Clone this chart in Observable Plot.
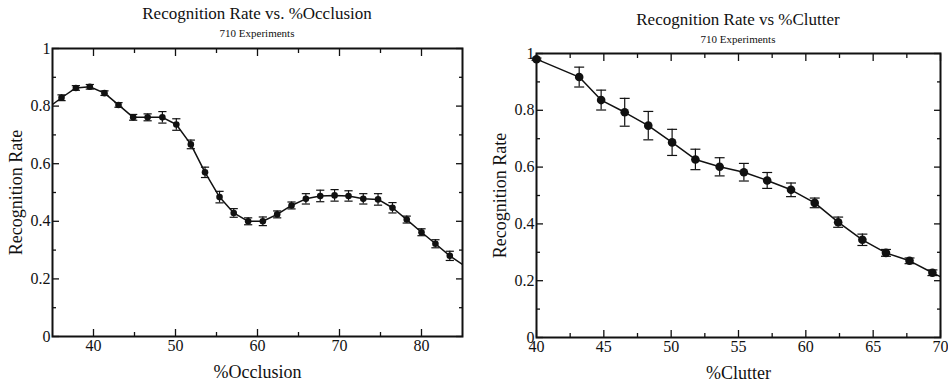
<!DOCTYPE html>
<html><head><meta charset="utf-8">
<script src="https://cdn.jsdelivr.net/npm/d3@7"></script>
<script src="https://cdn.jsdelivr.net/npm/@observablehq/plot@0.6"></script>
<style>
body{margin:0;background:#fff;font-family:"Liberation Serif",serif;color:#111;}
#wrap{position:relative;width:948px;height:381px;overflow:hidden;}
.panel{position:absolute;top:0;width:474px;height:381px;}
.panel svg{position:absolute;left:0;top:0;}
.title{position:absolute;text-align:center;font-size:17px;line-height:18px;white-space:nowrap;}
.sub{position:absolute;text-align:center;font-size:11px;line-height:12px;white-space:nowrap;}
</style></head><body>
<div id="wrap">
  <div class="panel" id="p1">
    <div class="title" style="left:52px;width:410px;top:5px">Recognition Rate vs. %Occlusion</div>
    <div class="sub" style="left:52px;width:410px;top:27px">710 Experiments</div>
  </div>
  <div class="panel" id="p2" style="left:474px">
    <div class="title" style="left:62px;width:404px;top:11px">Recognition Rate vs %Clutter</div>
    <div class="sub" style="left:62px;width:404px;top:33px">710 Experiments</div>
  </div>
</div>
<script>
// Left chart: recognition rate vs % occlusion
const occlusionX = [34.35, 36.1, 37.85, 39.55, 41.34, 43.05, 44.84, 46.6, 48.4, 50.1, 51.87, 53.6, 55.37, 57.1, 58.86, 60.65, 62.4, 64.15, 65.9, 67.65, 69.4, 71.1, 72.9, 74.7, 76.46, 78.2, 80.0, 81.7, 83.45, 85.2];
const occlusionRate = [0.792, 0.829, 0.863, 0.867, 0.845, 0.804, 0.761, 0.761, 0.761, 0.736, 0.667, 0.570, 0.484, 0.429, 0.400, 0.400, 0.424, 0.455, 0.478, 0.488, 0.490, 0.488, 0.478, 0.476, 0.447, 0.406, 0.362, 0.322, 0.280, 0.246];
const occlusionErr = [0.01, 0.01, 0.008, 0.008, 0.008, 0.008, 0.01, 0.012, 0.02, 0.02, 0.015, 0.018, 0.02, 0.015, 0.012, 0.015, 0.012, 0.012, 0.018, 0.02, 0.02, 0.018, 0.018, 0.02, 0.018, 0.012, 0.012, 0.014, 0.016, 0.015];

// Right chart: recognition rate vs % clutter
const clutterX = [40.0, 43.17, 44.8, 46.55, 48.3, 50.07, 51.8, 53.6, 55.4, 57.13, 58.9, 60.66, 62.4, 64.2, 65.95, 67.7, 69.4, 71.15];
const clutterRate = [0.980, 0.917, 0.836, 0.793, 0.746, 0.687, 0.627, 0.601, 0.582, 0.553, 0.520, 0.474, 0.406, 0.344, 0.298, 0.270, 0.228, 0.187];
const clutterErr = [0.004, 0.035, 0.035, 0.049, 0.05, 0.046, 0.036, 0.032, 0.031, 0.028, 0.024, 0.017, 0.018, 0.02, 0.012, 0.01, 0.01, 0.01];

const occXMajor = [40, 50, 60, 70, 80];
const occXMinor = [45, 55, 65, 75];
const clutXMajor = [40, 45, 50, 55, 60, 65, 70];
const clutXMinor = [42.5, 47.5, 52.5, 57.5, 62.5, 67.5];
const rateMajor = [0, 0.2, 0.4, 0.6, 0.8, 1];
const rateMinor = [0.1, 0.3, 0.5, 0.7, 0.9];

const ink = "#111";

function chart({xs, ys, es, xDomain, xMajor, xMinor, xLabel, margins, r, capHalf}) {
  const data = xs.map((x, i) => ({x, y: ys[i], e: es[i]}));
  const inside = data.filter(d => d.x >= xDomain[0] && d.x <= xDomain[1]);
  const tickOpts = {stroke: ink, strokeWidth: 1.3, text: null, label: null};
  return Plot.plot({
    width: 474,
    height: 381,
    ...margins,
    style: {fontFamily: "Liberation Serif, serif", color: ink, background: "transparent"},
    x: {domain: xDomain},
    y: {domain: [0, 1]},
    marks: [
      // tick labels and axis titles
      Plot.axisX({ticks: xMajor, anchor: "bottom", tickSize: 0, tickPadding: 3, fontSize: 16, tickFormat: d => String(d), label: null}),
      Plot.axisX({ticks: [], anchor: "bottom", tickSize: 0, fontSize: 18,
        label: xLabel, labelAnchor: "center", labelOffset: 41, labelArrow: "none"}),
      Plot.axisY({ticks: rateMajor, anchor: "left", tickSize: 0, tickPadding: 2, fontSize: 16, tickFormat: d => String(d), label: null}),
      Plot.axisY({ticks: [], anchor: "left", tickSize: 0, fontSize: 18,
        label: "Recognition Rate", labelAnchor: "center", labelOffset: 43, labelArrow: "none"}),
      // inward ticks on all four sides
      Plot.axisX({...tickOpts, ticks: xMajor, anchor: "bottom", tickSize: 7, insetBottom: 7}),
      Plot.axisX({...tickOpts, ticks: xMinor, anchor: "bottom", tickSize: 4, insetBottom: 4}),
      Plot.axisX({...tickOpts, ticks: xMajor, anchor: "top", tickSize: 7, insetTop: 7}),
      Plot.axisX({...tickOpts, ticks: xMinor, anchor: "top", tickSize: 4, insetTop: 4}),
      Plot.axisY({...tickOpts, ticks: rateMajor, anchor: "left", tickSize: 7, insetLeft: 7}),
      Plot.axisY({...tickOpts, ticks: rateMinor, anchor: "left", tickSize: 4, insetLeft: 4}),
      Plot.axisY({...tickOpts, ticks: rateMajor, anchor: "right", tickSize: 7, insetRight: 7}),
      Plot.axisY({...tickOpts, ticks: rateMinor, anchor: "right", tickSize: 4, insetRight: 4}),
      // data
      Plot.line(data, {x: "x", y: "y", stroke: ink, strokeWidth: 1.5, clip: true}),
      Plot.ruleX(inside, {x: "x", y1: d => d.y - d.e, y2: d => d.y + d.e, stroke: ink, strokeWidth: 1.2}),
      Plot.link(inside, {x1: d => d.x - capHalf, x2: d => d.x + capHalf, y1: d => d.y + d.e, y2: d => d.y + d.e, stroke: ink, strokeWidth: 1.2}),
      Plot.link(inside, {x1: d => d.x - capHalf, x2: d => d.x + capHalf, y1: d => d.y - d.e, y2: d => d.y - d.e, stroke: ink, strokeWidth: 1.2}),
      Plot.dot(inside, {x: "x", y: "y", r, fill: ink, stroke: "none"}),
      Plot.frame({stroke: ink, strokeWidth: 2})
    ]
  });
}

document.getElementById("p1").append(chart({
  xs: occlusionX, ys: occlusionRate, es: occlusionErr,
  xDomain: [35, 85], xMajor: occXMajor, xMinor: occXMinor, xLabel: "%Occlusion",
  margins: {marginTop: 48, marginBottom: 45, marginLeft: 52, marginRight: 12},
  r: 3.3, capHalf: 0.5
}));
document.getElementById("p2").append(chart({
  xs: clutterX, ys: clutterRate, es: clutterErr,
  xDomain: [40, 70], xMajor: clutXMajor, xMinor: clutXMinor, xLabel: "%Clutter",
  margins: {marginTop: 53, marginBottom: 44, marginLeft: 62, marginRight: 8},
  r: 4.3, capHalf: 0.37
}));
</script>
</body></html>
